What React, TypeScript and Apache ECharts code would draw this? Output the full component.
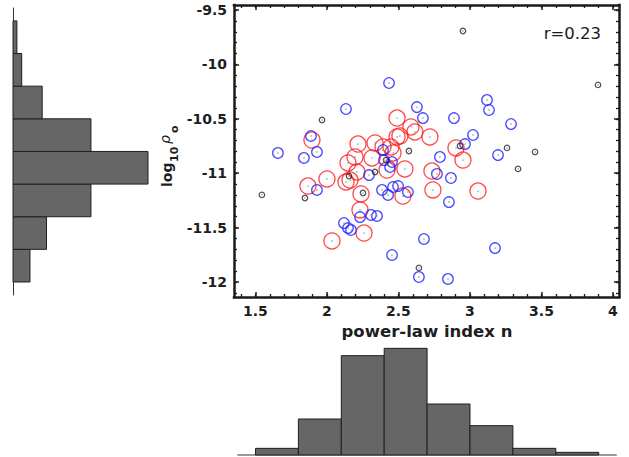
import React, { useEffect, useRef } from "react";
import * as echarts from "echarts";

// ---- axis ranges / ticks ----
const X_MIN = 1.35;
const X_MAX = 4.042;
const Y_MIN = -12.138;
const Y_MAX = -9.454;

const xTicks = [1.5, 2, 2.5, 3, 3.5, 4];
const xMinorTicks = [1.4, 1.5, 1.6, 1.7, 1.8, 1.9, 2.0, 2.1, 2.2, 2.3, 2.4, 2.5, 2.6, 2.7, 2.8, 2.9, 3.0, 3.1, 3.2, 3.3, 3.4, 3.5, 3.6, 3.7, 3.8, 3.9, 4.0];
const yTicks = [-12, -11.5, -11, -10.5, -10, -9.5];
const yMinorTicks = [-12.1, -12.0, -11.9, -11.8, -11.7, -11.6, -11.5, -11.4, -11.3, -11.2, -11.1, -11.0, -10.9, -10.8, -10.7, -10.6, -10.5, -10.4, -10.3, -10.2, -10.1, -10.0, -9.9, -9.8, -9.7, -9.6, -9.5];

// ---- scatter data: [power-law index n, log10 rho_o] ----
const blackPts: number[][] = [
  [2.951, -9.693], [3.895, -10.189], [1.965, -10.511], [1.545, -11.2], [1.846, -11.228],
  [2.573, -10.796], [2.93, -10.75], [3.259, -10.768], [3.455, -10.805], [3.336, -10.961],
  [2.643, -11.871], [2.154, -11.026], [2.252, -11.182], [2.336, -10.989], [2.413, -10.879],
];
const bluePts: number[][] = [
  [2.434, -10.171], [2.133, -10.41], [1.657, -10.814], [1.888, -10.658], [1.93, -10.805],
  [1.839, -10.86], [2.629, -10.392], [2.671, -10.493], [2.888, -10.493], [3.119, -10.327],
  [3.133, -10.419], [3.287, -10.548], [3.021, -10.649], [2.965, -10.732], [2.79, -10.851],
  [3.196, -10.833], [2.769, -11.007], [2.867, -11.044], [2.853, -11.265], [2.678, -11.605],
  [3.175, -11.688], [2.455, -11.752], [2.643, -11.954], [2.846, -11.972], [2.455, -10.897],
  [2.441, -10.943], [2.385, -11.154], [2.427, -11.2], [2.462, -11.127], [2.497, -11.118],
  [2.566, -11.173], [1.93, -11.154], [2.119, -11.458], [2.168, -11.522], [2.147, -11.504],
  [2.231, -11.403], [2.308, -11.384], [2.35, -11.393], [2.294, -11.017], [2.392, -10.787],
  [2.399, -10.879],
];
const redPts: number[][] = [
  [2.49, -10.493], [1.895, -10.695], [2.217, -10.732], [2.336, -10.722], [2.448, -10.759],
  [2.49, -10.667], [2.587, -10.575], [2.615, -10.621], [2.72, -10.667], [2.51, -10.658],
  [2.902, -10.768], [2.951, -10.879], [2.462, -10.814], [2.545, -10.961], [2.734, -10.98],
  [2.42, -10.971], [2.741, -11.154], [3.056, -11.164], [2.531, -11.21], [1.867, -11.118],
  [2.0, -11.053], [2.133, -11.081], [2.161, -11.063], [2.21, -10.989], [2.231, -11.338],
  [2.238, -11.191], [2.259, -11.55], [2.035, -11.623], [2.196, -10.851], [2.315, -10.86],
  [2.147, -10.906], [2.392, -10.759],
];

// ---- histograms ----
const yBinEdges = [-12, -11.7, -11.4, -11.1, -10.8, -10.5, -10.2, -9.9, -9.6];
const yCounts = [3.9, 7.7, 17.9, 31, 17.9, 6.7, 2, 0.9];
const xBinEdges = [1.5, 1.8, 2.1, 2.4, 2.7, 3.0, 3.3, 3.6, 3.9];
const xCounts = [2.0, 10.8, 29.8, 32.0, 15.3, 8.8, 2.0, 0.8];

const rText = "r=0.23";
const xTitle = "power-law index n";

const FONT = "DejaVu Sans";
const AX = "#1a1a1a";
const LBL = "#1e1e1e";

const boldRich = { b: { fontFamily: FONT, fontWeight: "bold", fontSize: 14, color: LBL } };

function majorX(position: string, showLabel: boolean) {
  return {
    gridIndex: 0, type: "value", position, min: X_MIN, max: X_MAX,
    axisLine: { show: true, onZero: false, lineStyle: { color: AX, width: 2.5, cap: "square" } },
    axisTick: { show: true, inside: true, length: 5, customValues: xTicks, lineStyle: { color: AX, width: 1.5 } },
    axisLabel: {
      show: showLabel, customValues: xTicks, margin: 7, color: LBL, fontFamily: FONT, fontWeight: "bold", fontSize: 14,
      formatter: (v: number) => "{b|" + String(v) + "}", rich: boldRich,
    },
    splitLine: { show: false },
  };
}
function minorX(position: string) {
  return {
    gridIndex: 0, type: "value", position, min: X_MIN, max: X_MAX,
    axisLine: { show: false, onZero: false },
    axisTick: { show: true, inside: true, length: 3, customValues: xMinorTicks, lineStyle: { color: AX, width: 1.3 } },
    axisLabel: { show: false },
    splitLine: { show: false },
  };
}
function majorY(position: string, showLabel: boolean) {
  return {
    gridIndex: 0, type: "value", position, min: Y_MIN, max: Y_MAX,
    axisLine: { show: true, onZero: false, lineStyle: { color: AX, width: 2.5, cap: "square" } },
    axisTick: { show: true, inside: true, length: 5, customValues: yTicks, lineStyle: { color: AX, width: 1.5 } },
    axisLabel: {
      show: showLabel, customValues: yTicks, margin: 7, color: LBL, fontFamily: FONT, fontWeight: "bold", fontSize: 14,
      formatter: (v: number) => "{b|" + String(v) + "}", rich: boldRich,
    },
    splitLine: { show: false },
  };
}
function minorY(position: string) {
  return {
    gridIndex: 0, type: "value", position, min: Y_MIN, max: Y_MAX,
    axisLine: { show: false, onZero: false },
    axisTick: { show: true, inside: true, length: 3, customValues: yMinorTicks, lineStyle: { color: AX, width: 1.3 } },
    axisLabel: { show: false },
    splitLine: { show: false },
  };
}

const barStyle = { fill: "#666666", stroke: "#1f1f1f", lineWidth: 1 };

export default function App() {
  const ref = useRef<HTMLDivElement>(null);
  useEffect(() => {
    if (!ref.current) return;
    const chart = echarts.init(ref.current, null, { renderer: "svg" });
    const markerSeries = (data: number[][], size: number, color: string, width: number, z: number) => ({
      type: "scatter", xAxisIndex: 0, yAxisIndex: 0, data, symbol: "circle", symbolSize: size,
      itemStyle: { color: "rgba(0,0,0,0)", borderColor: color, borderWidth: width },
      emphasis: { disabled: true }, silent: true, z,
    });
    const option: any = {
      animation: false,
      backgroundColor: "#ffffff",
      grid: [
        { left: 234, top: 5, width: 385, height: 292 },
        { left: 13, top: 8, width: 140, height: 287 },
        { left: 238, top: 340, width: 378, height: 115 },
      ],
      xAxis: [
        majorX("bottom", true),
        minorX("bottom"),
        majorX("top", false),
        minorX("top"),
        { gridIndex: 1, type: "value", min: 0, max: 32.15, show: false },
        {
          gridIndex: 2, type: "value", min: 1.3776, max: 4.021,
          axisLine: { show: true, onZero: false, lineStyle: { color: "#9a9a9a", width: 2 } },
          axisTick: { show: false }, axisLabel: { show: false }, splitLine: { show: false },
        },
      ],
      yAxis: [
        majorY("left", true),
        minorY("left"),
        majorY("right", false),
        minorY("right"),
        {
          gridIndex: 1, type: "value", min: -12.1195, max: -9.4816, position: "left",
          axisLine: { show: true, onZero: false, lineStyle: { color: "#333333", width: 1 } },
          axisTick: { show: false }, axisLabel: { show: false }, splitLine: { show: false },
        },
        { gridIndex: 2, type: "value", min: 0, max: 34.5, show: false },
      ],
      series: [
        markerSeries(redPts, 16, "#ff1a1a", 1.3, 2),
        markerSeries(bluePts, 10.5, "#1f1fff", 1.3, 3),
        markerSeries(blackPts, 5.5, "#222222", 1.2, 4),
        {
          type: "scatter", xAxisIndex: 0, yAxisIndex: 0,
          data: [...redPts, ...bluePts, ...blackPts], symbol: "circle", symbolSize: 1.5,
          itemStyle: { color: "#8a8a8a" }, emphasis: { disabled: true }, silent: true, z: 5,
        },
        {
          type: "custom", xAxisIndex: 4, yAxisIndex: 4, silent: true,
          data: yCounts.map((c, i) => [yBinEdges[i], yBinEdges[i + 1], c]),
          encode: { x: 2, y: 0 },
          renderItem: (_p: any, api: any) => {
            const a = api.coord([0, api.value(0)]);
            const b = api.coord([api.value(2), api.value(1)]);
            return { type: "rect", shape: { x: a[0], y: b[1], width: b[0] - a[0], height: a[1] - b[1] }, style: barStyle };
          },
        },
        {
          type: "custom", xAxisIndex: 5, yAxisIndex: 5, silent: true,
          data: xCounts.map((c, i) => [xBinEdges[i], xBinEdges[i + 1], c]),
          encode: { x: 0, y: 2 },
          renderItem: (_p: any, api: any) => {
            const a = api.coord([api.value(0), 0]);
            const b = api.coord([api.value(1), api.value(2)]);
            return { type: "rect", shape: { x: a[0], y: b[1], width: b[0] - a[0], height: a[1] - b[1] }, style: barStyle };
          },
        },
      ],
      graphic: [
        {
          type: "text", x: 601, y: 33,
          style: { text: rText, fontFamily: FONT, fontSize: 16.5, fill: "#1a1a1a", align: "right", verticalAlign: "middle" },
        },
        {
          type: "text", x: 427, y: 331,
          style: { text: xTitle, fontFamily: FONT, fontWeight: 700, fontSize: 16.5, fill: LBL, align: "center", verticalAlign: "middle" },
        },
        {
          type: "group", x: 167, y: 187, rotation: Math.PI / 2,
          children: [
            { type: "text", x: 0, y: 0, style: { text: "log", fontFamily: FONT, fontWeight: 700, fontSize: 14, fill: LBL, align: "left", verticalAlign: "middle" } },
            { type: "text", x: 25, y: 7, style: { text: "10", fontFamily: FONT, fontWeight: 700, fontSize: 11, fill: LBL, align: "left", verticalAlign: "middle" } },
            { type: "text", x: 43, y: -2, style: { text: "ρ", fontFamily: FONT, fontStyle: "italic", fontSize: 14, fill: LBL, align: "left", verticalAlign: "middle" } },
            { type: "text", x: 54, y: 7, style: { text: "o", fontFamily: FONT, fontWeight: 700, fontSize: 11, fill: LBL, align: "left", verticalAlign: "middle" } },
          ],
        },
      ],
    };
    chart.setOption(option);
    return () => chart.dispose();
  }, []);
  return <div ref={ref} style={{ position: "fixed", left: 0, top: 0, width: 629, height: 457, background: "#fff" }} />;
}
